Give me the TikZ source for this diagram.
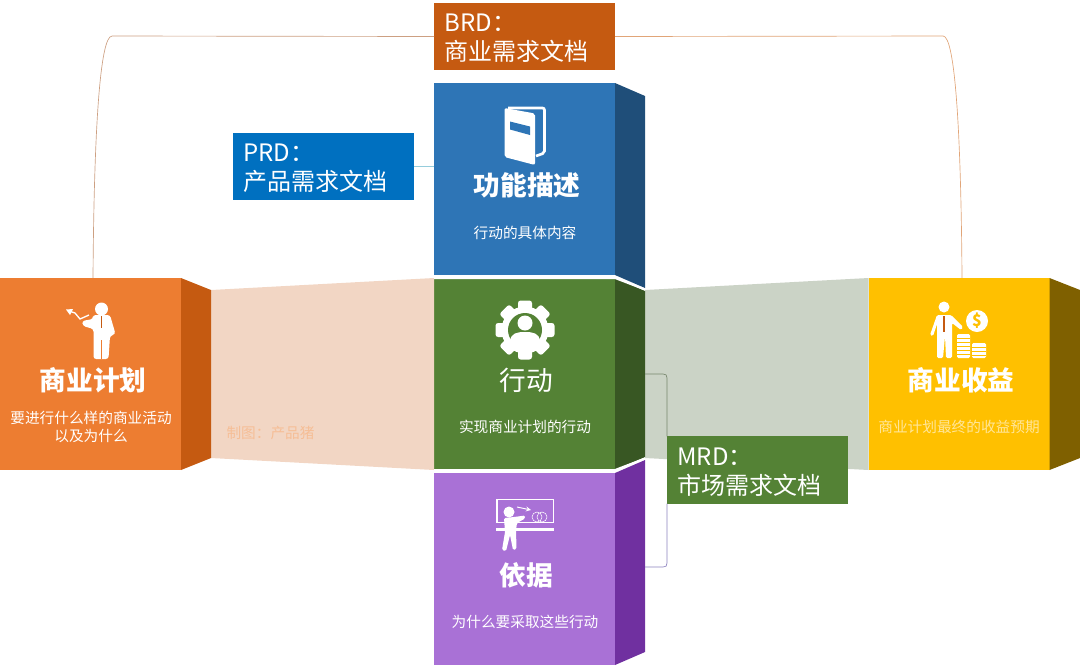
\documentclass[tikz,border=0pt]{standalone}
\usepackage{fontspec}
\setmainfont{Noto Sans CJK SC}
\usetikzlibrary{calc}
\definecolor{planfill}{HTML}{ED7D31}
\definecolor{planside}{HTML}{C55A11}
\definecolor{funcfill}{HTML}{2E75B6}
\definecolor{funcside}{HTML}{1F4E79}
\definecolor{actfill}{HTML}{548235}
\definecolor{actside}{HTML}{385723}
\definecolor{basisfill}{HTML}{A971D6}
\definecolor{basisside}{HTML}{7030A0}
\definecolor{gainfill}{HTML}{FFC000}
\definecolor{gainside}{HTML}{7F6000}
\tikzset{
  face/.style={minimum width=135.75pt,minimum height=144pt,inner sep=0pt,outer sep=0pt},
  docbox/.style={minimum width=135.75pt,minimum height=50.5pt,inner sep=0pt,outer sep=0pt,text=white,font=\fontsize{18pt}{22pt}\selectfont,align=left,text width=120pt,execute at begin node=\rule{0pt}{16pt}},
  title/.style={text=white,font=\fontsize{20pt}{22pt}\selectfont\bfseries,inner sep=0pt},
  sub/.style={text=white,font=\fontsize{11pt}{13.5pt}\selectfont,align=center,inner sep=0pt},
  icon/.style={fill=white,draw=none},
  link/.style={line width=0.5pt}
}
\begin{document}
\begin{tikzpicture}[x=0.75pt,y=-0.75pt]
    \useasboundingbox (0,0) rectangle (1080,665);
    % Boxes
    \node[face,fill=planfill] (plan) at (90.5,374) {};
    \node[face,fill=funcfill] (func) at (524.5,179) {};
    \node[face,fill=actfill] (act) at (524.5,374) {};
    \node[face,fill=basisfill] (basis) at (524.5,569) {};
    \node[face,fill=gainfill] (gain) at (959,374) {};
    % Bands between boxes
    \fill[color={rgb,255:red,242;green,214;blue,196}] (211,290) -- (act.north west) -- (act.south west) -- (211,458) -- cycle;
    \fill[color={rgb,255:red,203;green,211;blue,198}] (645,290) -- (gain.north west) -- (gain.south west) -- (645,458) -- cycle;
    % Side faces
    \fill[planside] (plan.north east) -- (211,290) -- (211,458) -- (plan.south east) -- cycle;
    \fill[funcside] (func.north east) -- (645,96) -- (645,288) -- (func.south east) -- cycle;
    \fill[actside] (act.north east) -- (645,291) -- (645,457) -- (act.south east) -- cycle;
    \fill[basisside] (basis.north east) -- (645,460) -- (645,652) -- (basis.south east) -- cycle;
    \fill[gainside] (gain.north east) -- (1080,290) -- (1080,458) -- (gain.south east) -- cycle;
    % White seams
    \draw[white,line width=1.5pt] (act.north west) -- (act.north east) -- (645,289.5);
    \draw[white,line width=1.5pt] (645,458.5) -- (act.south east) -- (act.south west);
    % Document boxes
    \node[docbox,fill=planside] (brd) at (524.5,36.5) {BRD：\\商业需求文档};
    \node[docbox,fill={rgb,255:red,0;green,112;blue,192}] (prd) at (323.5,166.5) {PRD：\\产品需求文档};
    \node[docbox,fill=actfill] (mrd) at (757.5,470) {MRD：\\市场需求文档};
    % Connectors
    \coordinate (planTop) at (93,278);
    \coordinate (gainTop) at (962,278);
    \coordinate (actSide) at (645,374);
    \coordinate (basisSide) at (645,567);
    \draw[link,color={rgb,255:red,205;green,160;blue,130}] (planTop) .. controls (94,130) and (100,36) .. (112,36) -- (brd.west);
    \draw[link,color={rgb,255:red,225;green,165;blue,120}] (brd.east) -- (943,36) .. controls (955,36) and (961,130) .. (gainTop);
    \draw[link,color={rgb,255:red,150;green,205;blue,220}] (prd.east) -- (func.west |- prd.east);
    \draw[link,color={rgb,255:red,120;green,135;blue,110}] (actSide) -- (663,374) .. controls (666,374) and (667,375) .. (667,378) -- (mrd.north west);
    \draw[link,color={rgb,255:red,140;green,130;blue,190}] (mrd.south west) -- (667,563) .. controls (667,566) and (666,567) .. (663,567) -- (basisSide);
    % Labels
    \node[title] (planTitle) at (93,380.5) {商业计划};
    \node[sub] (planSub) at (91,426.5) {要进行什么样的商业活动\\以及为什么};
    \node[title] (funcTitle) at (527,185.5) {功能描述};
    \node[sub] (funcSub) at (525,232.5) {行动的具体内容};
    \node[title,font=\fontsize{20pt}{22pt}\selectfont] (actTitle) at (526,380.5) {行动};
    \node[sub] (actSub) at (525,426.5) {实现商业计划的行动};
    \node[title] (basisTitle) at (526,575.5) {依据};
    \node[sub] (basisSub) at (525,621.5) {为什么要采取这些行动};
    \node[title] (gainTitle) at (961,380.5) {商业收益};
    \node[sub,text={rgb,255:red,255;green,230;blue,153}] (gainSub) at (959,426.5) {商业计划最终的收益预期};
    \node[sub,text={rgb,255:red,246;green,190;blue,150}] (credit) at (270.5,433) {制图：产品猪};
    % Man with chart
    \fill[icon] (101.5,309) circle (6.5);
    \fill[icon,rounded corners=2pt] (93,315) -- (110,315) -- (115.5,334) -- (110,336) -- (108.5,359) -- (93.5,359) -- (93.5,329) -- (83,326) -- (82,321) -- (93,319) -- cycle;
    \draw[planside,line width=1.2pt] (101.5,316) -- (101.5,328);
    \draw[planfill,line width=0.6pt] (101,340) -- (101,359);
    \draw[white,line width=1pt] (89,315) -- (80,319) -- (75,313) -- (69,311);
    \fill[icon] (66,309.5) -- (73,309) -- (70,315) -- cycle;
    % Book
    \draw[white,line width=2pt,rounded corners=1.5pt] (508,108) -- (544.5,108) -- (544.5,153) -- (536,156);
    \fill[icon,rounded corners=1.5pt] (504.5,108) -- (535,113.5) -- (535,165) -- (504.5,157) -- cycle;
    \fill[funcfill] (510,121.5) -- (530,126.5) -- (530,135) -- (510,129.5) -- cycle;
    % Gear
    \foreach \ang in {0,45,...,315}
        \fill[icon,rotate around={\ang:(525,330)},rounded corners=2pt] (518,300.5) rectangle (532,312);
    \fill[icon] (525,330) circle (23.5);
    \fill[actfill] (525,330) circle (17);
    \fill[icon] (525,323) circle (7.5);
    \fill[icon] (510,341) .. controls (511,333) and (517,332) .. (525,332) .. controls (533,332) and (539,333) .. (540,341) -- (536,350) -- (514,350) -- cycle;
    % Teacher
    \draw[white,line width=1.2pt] (514,522.5) -- (497,522.5) -- (497,499.5) -- (553.5,499.5) -- (553.5,522.5) -- (516,522.5);
    \fill[icon] (496,527.5) rectangle (554,531);
    \fill[icon] (509,512) circle (5.5);
    \fill[icon,rounded corners=1pt] (504,518) -- (514,517) -- (525,515.5) -- (525,518.5) -- (517,523) -- (516,530) -- (516.5,549) -- (513,550) -- (510,535) -- (506,551) -- (502,550) -- (505,532) -- cycle;
    \draw[white,line width=0.7pt,->,>=stealth] (517,507) -- (531,510);
    \draw[white,line width=0.4pt] (537,517) circle (5) (542,517) circle (5);
    % Man with coins
    \fill[icon] (944,307) circle (5.5);
    \fill[icon,rounded corners=1pt] (937,315) -- (951,315) -- (963,327) -- (961,330) -- (952,323) -- (952,358) -- (946,358) -- (945,336) -- (943,358) -- (937,358) -- (937,324) -- (933,336) -- (930,335) -- cycle;
    \draw[planside,line width=1.2pt] (944,316) -- (944,332);
    \fill[icon] (977,321) circle (11);
    \node[text=gainfill,font=\fontsize{12pt}{12pt}\selectfont\bfseries,inner sep=0pt] (dollar) at (977,321) {\$};
    \fill[icon,rounded corners=1pt] (957,334) rectangle (970,358);
    \fill[icon,rounded corners=1pt] (972,343) rectangle (986,358);
    \foreach \yy in {338,342,...,354}
        \draw[gainfill,line width=0.4pt] (957,\yy) -- (970,\yy);
    \foreach \yy in {347,351,355}
        \draw[gainfill,line width=0.4pt] (972,\yy) -- (986,\yy);
\end{tikzpicture}
\end{document}
